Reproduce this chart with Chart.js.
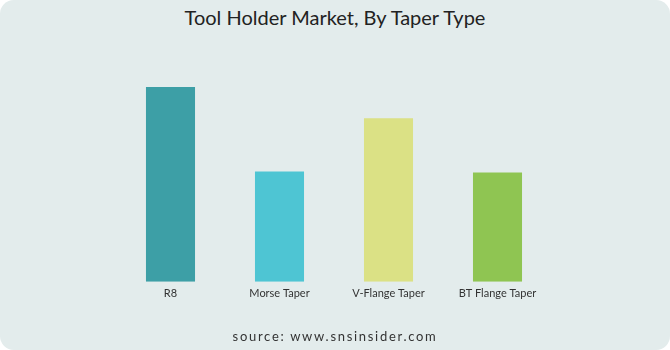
<!DOCTYPE html>
<html>
<head>
<meta charset="utf-8">
<script src="https://cdn.jsdelivr.net/npm/chart.js@4"></script>
<style>
    body { margin: 0; background: #ffffff; }
    .card {
        position: relative;
        width: 670px;
        height: 350px;
        background: #e3ecec;
        border-radius: 14px;
        overflow: hidden;
    }
    .title {
        position: absolute; left: 0; right: 0; top: 5px;
        text-align: center;
        font-family: "Lato", sans-serif;
        font-size: 20px;
        color: #222;
    }
    .source {
        position: absolute; left: 0; right: 0; top: 328px;
        text-align: center;
        font-family: "Lato", sans-serif;
        font-size: 13px;
        letter-spacing: 1.7px;
        color: #333;
    }
    canvas { position: absolute; left: 0; top: 0; }
</style>
</head>
<body>
<div class="card">
    <div class="title">Tool Holder Market, By Taper Type</div>
    <canvas id="chart" width="670" height="350"></canvas>
    <div class="source">source: www.snsinsider.com</div>
</div>
<script>
// Dữ liệu
const categories = ["R8", "Morse Taper", "V-Flange Taper", "BT Flange Taper"];
const values = [19.4, 11.0, 16.3, 10.9];
const barColors = ["#3d9fa6", "#4ec5d3", "#dbe185", "#8fc552"];

document.addEventListener("DOMContentLoaded", function () {
    new Chart(document.getElementById("chart"), {
        type: "bar",
        data: {
            labels: categories,
            datasets: [
                {
                    data: values,
                    backgroundColor: barColors,
                    categoryPercentage: 1,
                    barPercentage: 0.45,
                },
            ],
        },
        options: {
            responsive: false,
            animation: false,
            layout: { padding: { top: 61, left: 116, right: 118, bottom: 45 } },
            plugins: { legend: { display: false }, tooltip: { enabled: false } },
            scales: {
                x: {
                    grid: { display: false, drawTicks: false },
                    border: { display: false },
                    ticks: { color: "#333", font: { family: "Lato", size: 11 }, padding: 5 },
                },
                y: { display: false, min: 0, max: 22 },
            },
        },
    });
});
</script>
</body>
</html>
